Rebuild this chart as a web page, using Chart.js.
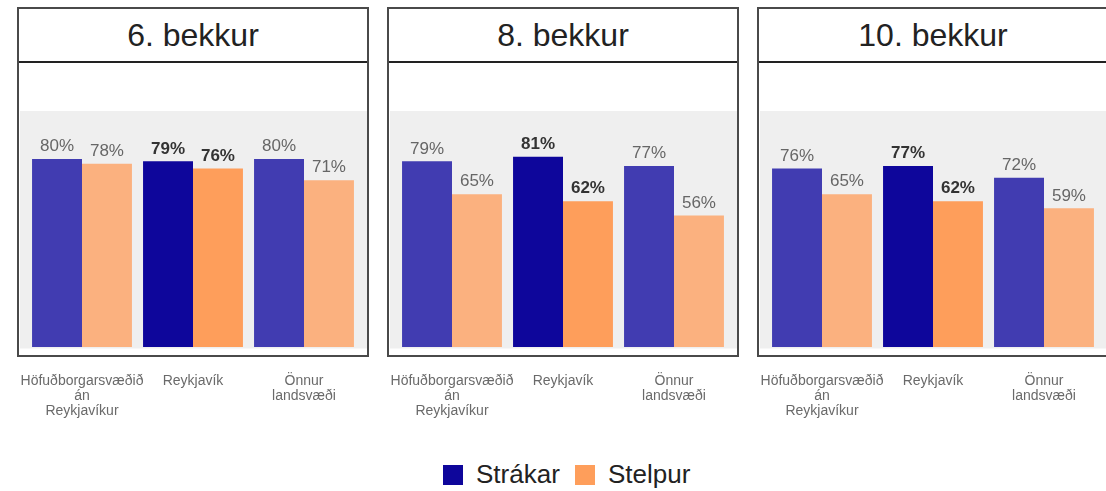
<!DOCTYPE html>
<html>
<head>
<meta charset="utf-8">
<script src="https://cdn.jsdelivr.net/npm/chart.js@4.4.1/dist/chart.umd.min.js"></script>
<style>
  html, body { margin: 0; padding: 0; background: #fff; width: 1106px; height: 491px; overflow: hidden; position: relative; font-family: "Liberation Sans", Arial, sans-serif; }
  .wrap { position: absolute; top: 0; width: 352px; height: 440px; }
  .wrap canvas { position: absolute; left: 0; top: 0; }
  .box { position: absolute; left: 0; top: 7px; width: 352px; height: 350px; box-sizing: border-box; border: 2px solid #4a4a4a; pointer-events: none; }
  .head { position: absolute; left: 0; top: 0; width: 100%; height: 54px; box-sizing: border-box; border-bottom: 2.5px solid #222; text-align: center; font-size: 32px; line-height: 52px; color: #222; background: #fff; }
  .sq { position: absolute; width: 20px; height: 20px; top: 465px; }
  .lt { position: absolute; top: 459px; font-size: 26px; line-height: 30px; color: #222; }
</style>
</head>
<body>
<script>
// ---- data ----
const categories = [["Höfuðborgarsvæðið", "án", "Reykjavíkur"], "Reykjavík", ["Önnur", "landsvæði"]];
const panelTitles = ["6. bekkur", "8. bekkur", "10. bekkur"];
const seriesNames = ["Strákar", "Stelpur"];
const boys6 = [80, 79, 80];
const girls6 = [78, 76, 71];
const boys8 = [79, 81, 77];
const girls8 = [65, 62, 56];
const boys10 = [76, 77, 72];
const girls10 = [65, 62, 59];
const boysData = [boys6, boys8, boys10];
const girlsData = [girls6, girls8, girls10];

// ---- styles ----
const FONT = '"Liberation Sans", Arial, sans-serif';
const boyColors = ["#413cb1", "#0e069b", "#413cb1"];
const girlColors = ["#fbb17f", "#fe9e5b", "#fbb17f"];
const panelLefts = [17, 387, 757];

const bgPlugin = {
  id: 'panelBg',
  beforeDraw(chart) {
    const a = chart.chartArea, ctx = chart.ctx;
    ctx.save();
    ctx.fillStyle = '#efefef';
    ctx.fillRect(a.left - 6.5, a.top - 1, (a.right - a.left) + 15, (a.bottom - a.top) + 2.5);
    ctx.restore();
  }
};

const labelPlugin = {
  id: 'valLabels',
  afterDatasetsDraw(chart) {
    const ctx = chart.ctx;
    ctx.save();
    ctx.textAlign = 'center';
    ctx.textBaseline = 'bottom';
    chart.data.datasets.forEach((ds, di) => {
      const meta = chart.getDatasetMeta(di);
      meta.data.forEach((el, i) => {
        const hi = i === 1;
        ctx.font = (hi ? 'bold ' : '') + '17px ' + FONT;
        ctx.fillStyle = hi ? '#333333' : '#666666';
        ctx.fillText(ds.data[i] + '%', el.x, el.y - 4);
      });
    });
    ctx.restore();
  }
};

panelTitles.forEach((title, p) => {
  const wrap = document.createElement('div');
  wrap.className = 'wrap';
  wrap.style.left = panelLefts[p] + 'px';
  const cv = document.createElement('canvas');
  cv.width = 352; cv.height = 440;
  wrap.appendChild(cv);
  const box = document.createElement('div');
  box.className = 'box';
  const head = document.createElement('div');
  head.className = 'head';
  head.textContent = title;
  box.appendChild(head);
  wrap.appendChild(box);
  document.body.appendChild(wrap);

  new Chart(cv.getContext('2d'), {
    type: 'bar',
    data: {
      labels: categories,
      datasets: [
        { label: seriesNames[0], data: boysData[p], backgroundColor: boyColors, borderWidth: 0 },
        { label: seriesNames[1], data: girlsData[p], backgroundColor: girlColors, borderWidth: 0 }
      ]
    },
    options: {
      responsive: false,
      animation: false,
      devicePixelRatio: 1,
      layout: { padding: { left: 9.5, right: 9.5, top: 112, bottom: 0 } },
      datasets: { bar: { categoryPercentage: 0.9, barPercentage: 1.0 } },
      plugins: { legend: { display: false }, tooltip: { enabled: false }, title: { display: false } },
      scales: {
        x: {
          grid: { display: false },
          border: { display: false },
          ticks: { color: '#6a6a6a', font: { family: FONT, size: 14, lineHeight: 1.1 }, padding: 18, maxRotation: 0, autoSkip: false },
          afterFit(scale) { scale.height = 93; scale.paddingLeft = 0; scale.paddingRight = 0; }
        },
        y: { display: false, min: 0, max: 100 }
      }
    },
    plugins: [bgPlugin, labelPlugin]
  });
});

// legend (HTML)
const legendItems = [
  { name: seriesNames[0], color: "#0e069b", sx: 443, tx: 476 },
  { name: seriesNames[1], color: "#fe9e5b", sx: 575, tx: 608 }
];
legendItems.forEach(it => {
  const sq = document.createElement('div');
  sq.className = 'sq'; sq.style.left = it.sx + 'px'; sq.style.background = it.color;
  document.body.appendChild(sq);
  const t = document.createElement('div');
  t.className = 'lt'; t.style.left = it.tx + 'px'; t.textContent = it.name;
  document.body.appendChild(t);
});
</script>
</body>
</html>
